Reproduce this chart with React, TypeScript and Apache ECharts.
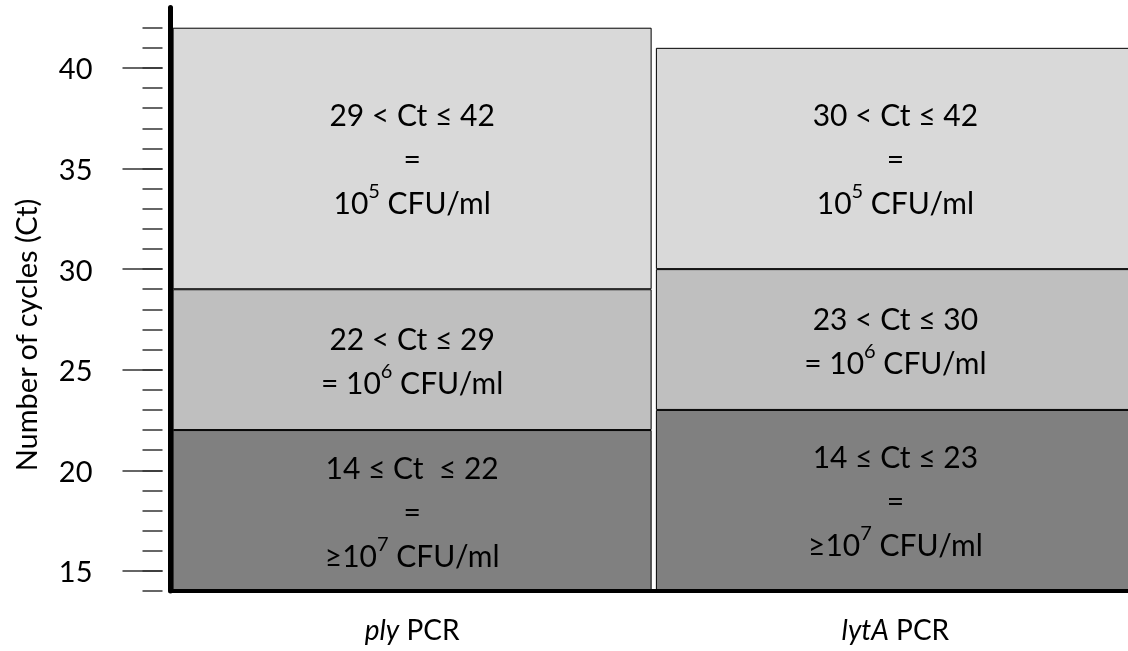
import React, { useEffect, useRef } from 'react';
import * as echarts from 'echarts';

const categories = ['ply', 'lytA'];
const categorySuffix = ' PCR';
const rangeStart = [14, 14];
const highLoadTop = [22, 23];
const midLoadTop = [29, 30];
const lowLoadTop = [42, 41];
const highLoadLabels = ['14 ≤ Ct  ≤ 22\n=\n≥10{s|7} CFU/ml', '14 ≤ Ct ≤ 23\n=\n≥10{s|7} CFU/ml'];
const midLoadLabels = ['22 < Ct ≤ 29\n= 10{s|6} CFU/ml', '23 < Ct ≤ 30\n= 10{s|6} CFU/ml'];
const lowLoadLabels = ['29 < Ct ≤ 42\n=\n10{s|5} CFU/ml', '30 < Ct ≤ 42\n=\n10{s|5} CFU/ml'];
const majorTicks = [15, 20, 25, 30, 35, 40];
const minorTicks = [14, 15, 16, 17, 18, 19, 20, 21, 22, 23, 24, 25, 26, 27, 28, 29, 30, 31, 32, 33, 34, 35, 36, 37, 38, 39, 40, 41, 42];
const yAxisName = 'Number of cycles (Ct)';

const FONT = 'Lato';

export default function App() {
  const ref = useRef<HTMLDivElement>(null);
  useEffect(() => {
    if (!ref.current) return;
    const chart = echarts.init(ref.current, null, { renderer: 'svg' });
    const labelStyle = (texts: string[]) => ({
      show: true,
      position: 'inside',
      formatter: (p: any) => texts[p.dataIndex],
      fontFamily: FONT,
      fontSize: 30,
      lineHeight: 44,
      color: '#000',
      align: 'center',
      rich: {
        s: { fontFamily: FONT, fontSize: 20, color: '#000', lineHeight: 40, verticalAlign: 'top' },
      },
    });
    const seg = (name: string, data: number[], color: string, texts: string[]) => ({
      name,
      type: 'bar',
      stack: 'ct',
      barWidth: 479,
      data,
      itemStyle: { color, borderColor: '#000', borderWidth: 1 },
      label: labelStyle(texts),
    });
    const tickAxis = (values: number[], length: number) => ({
      type: 'value',
      min: 14,
      max: 43,
      position: 'left',
      offset: 8,
      axisLine: { show: false },
      axisTick: { show: true, customValues: values, length, lineStyle: { color: '#333', width: 1.5 } },
      axisLabel: { show: false },
      splitLine: { show: false },
    });
    chart.setOption({
      animation: false,
      grid: { left: 170.5, right: 0, top: 7.6, bottom: 60 },
      xAxis: {
        type: 'category',
        data: categories,
        z: 10,
        axisLine: { lineStyle: { color: '#000', width: 4 } },
        axisTick: { alignWithLabel: true, length: 11, lineStyle: { color: '#333', width: 1.5 } },
        axisLabel: {
          formatter: (v: string) => `{i|${v}}${categorySuffix}`,
          fontFamily: FONT,
          fontSize: 28,
          color: '#000',
          margin: 24,
          rich: { i: { fontFamily: FONT, fontSize: 28, fontStyle: 'italic', color: '#000' } },
        },
      },
      yAxis: [
        {
          type: 'value',
          min: 14,
          max: 43,
          z: 10,
          axisLine: { show: true, lineStyle: { color: '#000', width: 5 } },
          axisTick: { show: false },
          splitLine: { show: false },
          axisLabel: { customValues: majorTicks, fontFamily: FONT, fontSize: 29, color: '#000', margin: 78 },
        },
        tickAxis(minorTicks, 20),
        tickAxis(majorTicks, 40),
      ],
      graphic: [
        {
          type: 'text',
          x: 25,
          y: 335,
          rotation: Math.PI / 2,
          style: { text: yAxisName, fontFamily: FONT, fontSize: 29, fill: '#000', align: 'center', verticalAlign: 'middle' },
        },
      ],
      series: [
        {
          name: 'base',
          type: 'bar',
          stack: 'ct',
          barWidth: 479,
          silent: true,
          data: rangeStart,
          itemStyle: { color: 'transparent' },
        },
        seg('high', highLoadTop.map((v, i) => v - rangeStart[i]), '#808080', highLoadLabels),
        seg('mid', midLoadTop.map((v, i) => v - highLoadTop[i]), '#bfbfbf', midLoadLabels),
        seg('low', lowLoadTop.map((v, i) => v - midLoadTop[i]), '#d9d9d9', lowLoadLabels),
      ],
    });
    return () => chart.dispose();
  }, []);
  return <div ref={ref} style={{ position: 'fixed', left: 0, top: 0, width: 1137, height: 651 }} />;
}
